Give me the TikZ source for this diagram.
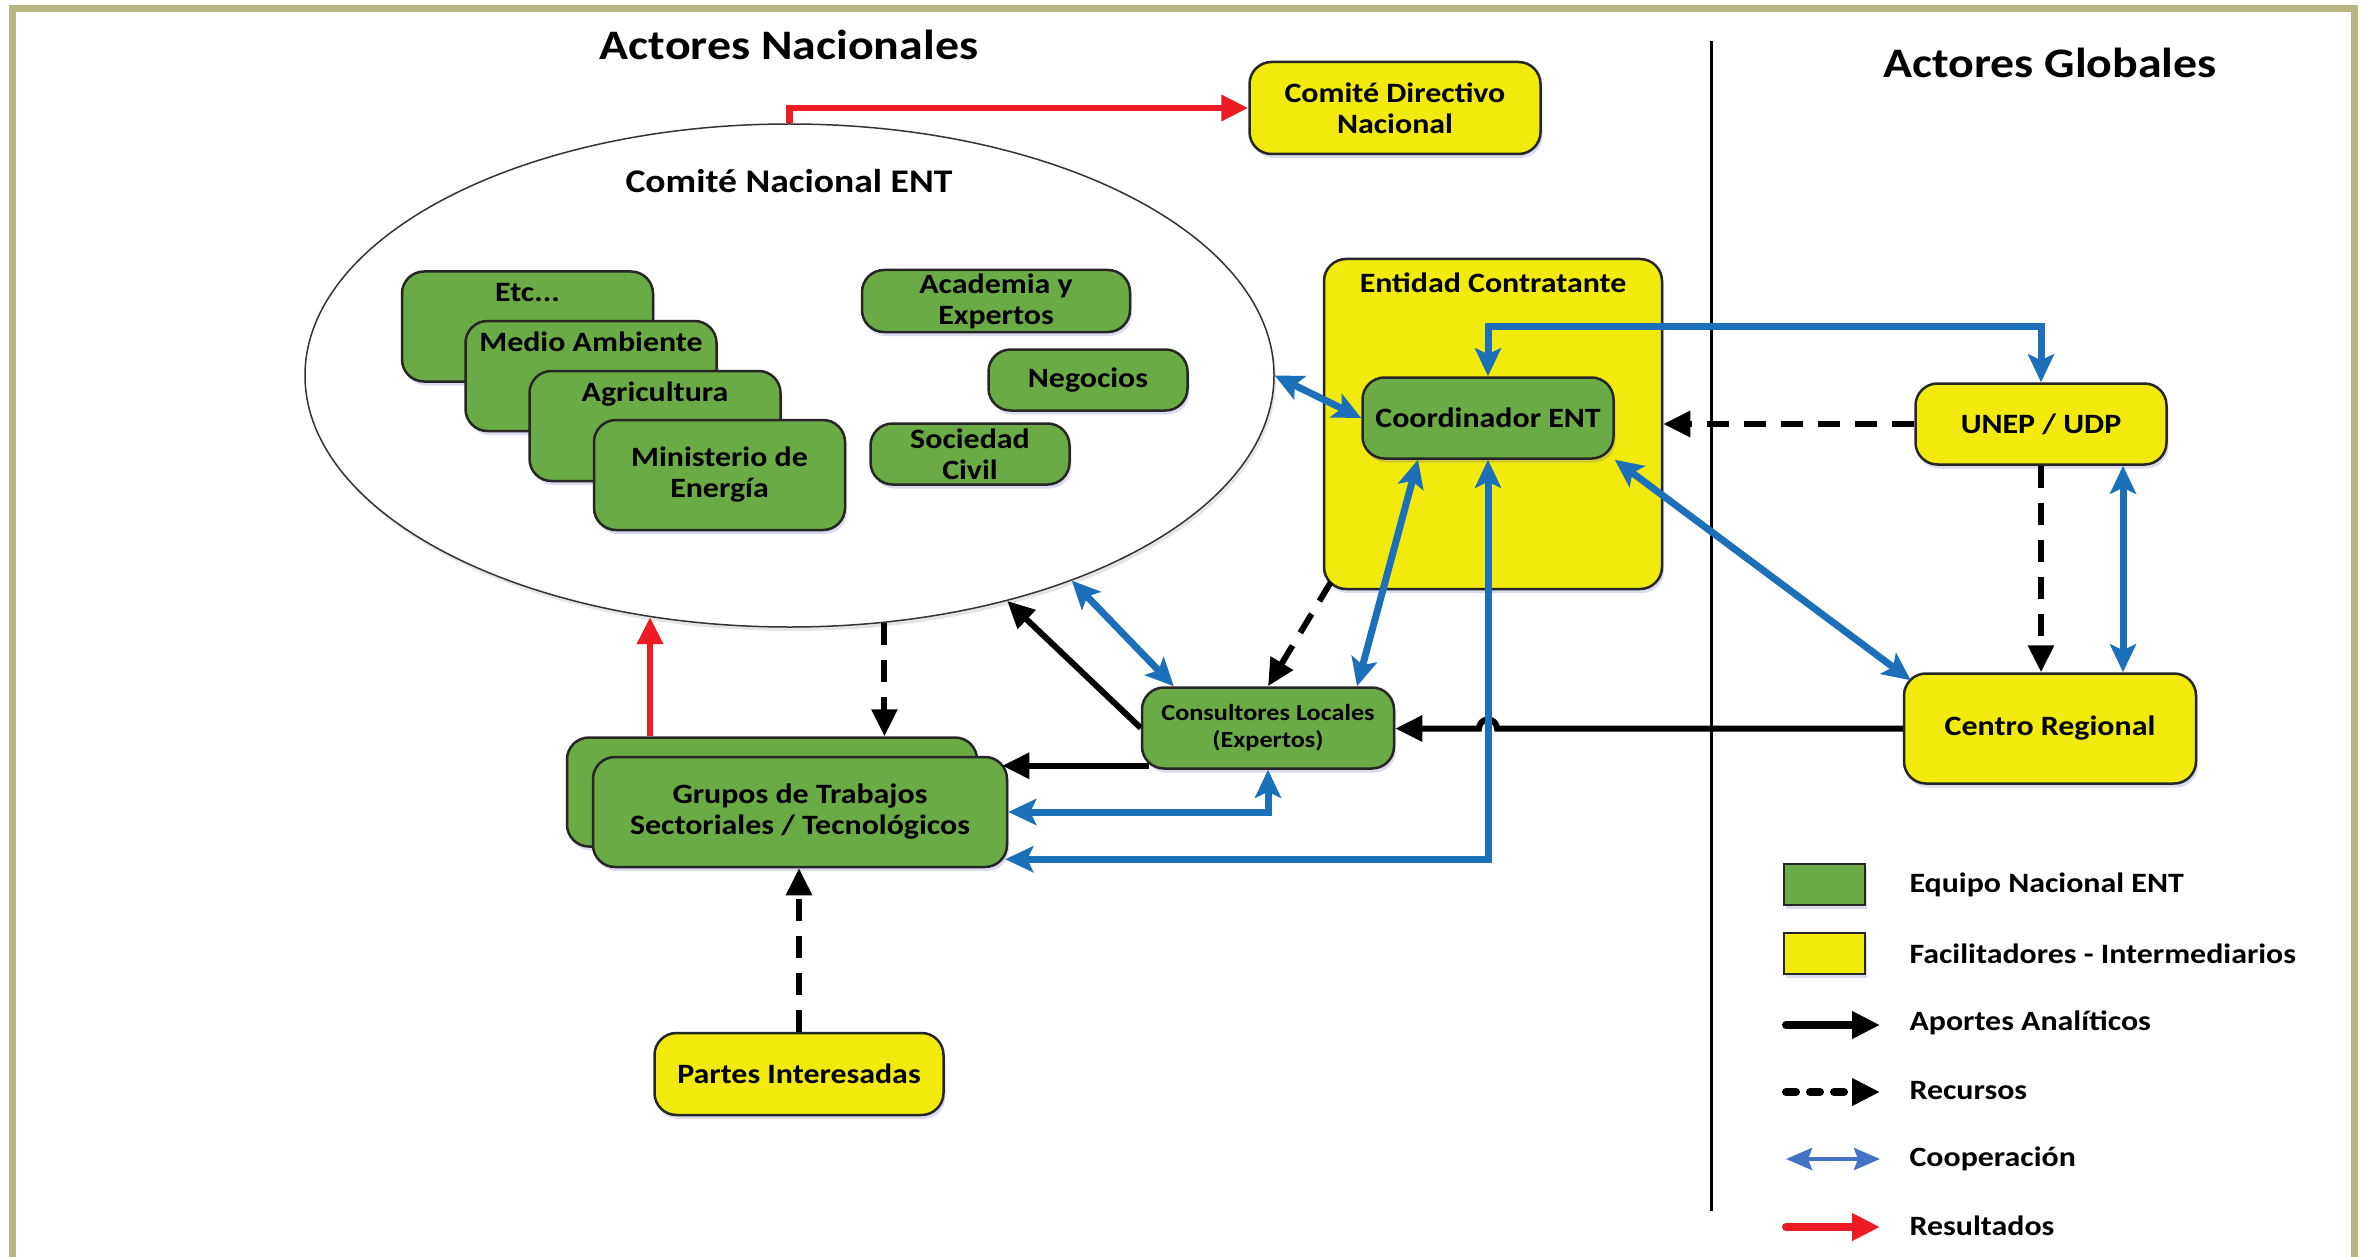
\documentclass[tikz,border=0pt]{standalone}
\usepackage{fontspec}
\setmainfont{Carlito}[FakeStretch=1.14]
\usetikzlibrary{arrows.meta, positioning, calc, shapes.geometric, shadows}

\definecolor{entgreen}{RGB}{106,171,69}
\definecolor{entyellow}{RGB}{242,234,13}
\definecolor{entblue}{RGB}{28,112,186}
\definecolor{legblue}{RGB}{68,114,196}
\definecolor{entred}{RGB}{237,28,36}
\definecolor{framecol}{RGB}{186,182,130}

\begin{document}
\begin{tikzpicture}[x=1pt, y=-1pt,
    boxfont/.style={font=\fontsize{28}{31}\selectfont\bfseries},
    box/.style={draw=black!85, line width=2.5pt, rounded corners=22pt, inner sep=0pt,
        align=center, boxfont,
        drop shadow={shadow xshift=2pt, shadow yshift=-4pt, fill=blue!40!gray, opacity=0.2}},
    greenbox/.style={box, fill=entgreen},
    yellowbox/.style={box, fill=entyellow},
    coop/.style={draw=entblue, line width=7pt,
        {Stealth[length=28pt, width=26pt, inset=6pt]}-{Stealth[length=28pt, width=26pt, inset=6pt]}},
    aporte/.style={draw=black, line width=6pt, -{Triangle[length=27pt, width=25pt]}},
    recurso/.style={aporte, dash pattern=on 22pt off 15pt},
    result/.style={draw=entred, line width=6.5pt, -{Triangle[length=27pt, width=25pt]}}
]
    \useasboundingbox (0,0) rectangle (2363,1257);
    \fill[white] (0,0) rectangle (2363,1257);
    % frame and divider
    \draw[framecol, line width=7pt] (12.5,1275) -- (12.5,8.5) -- (2354,8.5) -- (2354,1275);
    \draw[line width=3pt] (1711,41) -- (1711,1211);

    % titles
    \node[font=\fontsize{42}{48}\selectfont\bfseries] (natitle) at (789,45) {Actores Nacionales};
    \node[font=\fontsize{42}{48}\selectfont\bfseries] (gltitle) at (2050,63) {Actores Globales};

    % national committee
    \node[draw=black!80, fill=white, line width=1.5pt, ellipse, minimum width=969pt, minimum height=503pt,
          inner sep=0pt, drop shadow={shadow xshift=2pt, shadow yshift=-4pt, fill=gray, opacity=0.2}]
          (cne) at (789.5,375.5) {};
    \node[font=\fontsize{33}{38}\selectfont\bfseries] (cnetitle) at (789,181) {Comité Nacional ENT};

    \node[greenbox, minimum width=251pt, minimum height=110pt,
          label={[boxfont, anchor=north, inner sep=0pt, yshift=-13pt]north:Etc...}] (etc) at (527.5,326.5) {};
    \node[greenbox, minimum width=251pt, minimum height=110pt,
          label={[boxfont, anchor=north, inner sep=0pt, yshift=-12pt]north:Medio Ambiente}] (medio) at (591,376) {};
    \node[greenbox, minimum width=251pt, minimum height=110pt,
          label={[boxfont, anchor=north, inner sep=0pt, yshift=-12pt]north:Agricultura}] (agri) at (655,426) {};
    \node[greenbox, minimum width=251pt, minimum height=110pt] (minen) at (719.5,475) {Ministerio de\\Energía};

    \node[greenbox, minimum width=268pt, minimum height=62pt] (acad) at (996,301) {Academia y\\Expertos};
    \node[greenbox, minimum width=199pt, minimum height=61pt] (nego) at (1088,380) {Negocios};
    \node[greenbox, minimum width=199pt, minimum height=61pt] (socie) at (970,454) {Sociedad\\Civil};

    % other actors
    \node[yellowbox, minimum width=291pt, minimum height=92pt] (cdn) at (1395,108) {Comité Directivo\\Nacional};
    \node[yellowbox, minimum width=338pt, minimum height=330pt,
          label={[boxfont, anchor=north, inner sep=0pt, yshift=-15pt]north:Entidad Contratante}] (ent) at (1493,424) {};
    \node[greenbox, minimum width=251pt, minimum height=81pt] (coord) at (1488,418) {Coordinador ENT};
    \node[yellowbox, minimum width=251pt, minimum height=81pt] (unep) at (2041,424) {UNEP / UDP};
    \node[yellowbox, minimum width=292pt, minimum height=110pt] (cent) at (2050,728.5) {Centro Regional};
    \node[greenbox, minimum width=252pt, minimum height=81pt, font=\fontsize{23}{27}\selectfont\bfseries]
          (cons) at (1268,728) {Consultores Locales\\(Expertos)};
    \node[greenbox, minimum width=410pt, minimum height=109pt] (gback) at (772,792) {};
    \node[greenbox, minimum width=414pt, minimum height=110pt] (gfront) at (800,812) {Grupos de Trabajos\\Sectoriales / Tecnológicos};
    \node[yellowbox, minimum width=289pt, minimum height=82pt] (partes) at (799,1074) {Partes Interesadas};

    % resultados
    \draw[result] (cne.north) |- (cdn.west);
    \draw[result] (cne.240 |- gback.north) -- (cne.240);

    % recursos
    \draw[recurso] (cne.291.6) -- (cne.291.6 |- gback.north);
    \draw[recurso] (partes.north) -- (partes.north |- gfront.south);
    \draw[recurso] ([xshift=8pt,yshift=8pt]ent.south west) -- (cons.north);
    \draw[recurso] (unep.west) -- (ent.east |- unep.west);
    \draw[recurso] (unep.south) -- (unep.south |- cent.north);

    % aportes analiticos
    \draw[aporte] (cons.west) -- (cne.314);
    \draw[aporte] ([xshift=8pt,yshift=4pt]cons.south west) coordinate (csw) -- ($(gfront.east |- csw)+(-6,0)$);
    \draw[aporte] (cent.west) -- ($(coord.south |- cent.west)+(9,0)$)
        arc[start angle=0, end angle=180, radius=9pt] -- (cons.east |- cent.west);

    % cooperacion
    \draw[coop] (cne.east) -- (coord.west);
    \draw[coop] (cne.324.6) -- ([xshift=33pt]cons.north west);
    \draw[coop] ([xshift=-70pt]coord.south) -- ([xshift=89pt]cons.north);
    \draw[coop] (cons.south) |- (gfront.east);
    \draw[coop] (coord.south) |- ($(gfront.south east)+(-3,-9)$);
    \draw[coop] (coord.north) -- ++(0,-50) -| (unep.north);
    \draw[coop] (coord.south east) -- ([xshift=8pt,yshift=-8pt]cent.north west);
    \draw[coop] ($(unep.south)+(82,0)$) -- ($(unep.south |- cent.north)+(82,0)$);

    % legend
    \node[box, sharp corners, fill=entgreen, minimum width=81pt, minimum height=41pt] (leggreen) at (1824.5,884.5) {};
    \node[box, sharp corners, fill=entyellow, minimum width=81pt, minimum height=41pt] (legyellow) at (1824.5,953.5) {};
    \node[boxfont, anchor=west] (legequipo) at (1906,885) {Equipo Nacional ENT};
    \node[boxfont, anchor=west] (legfacil) at (1906,954) {Facilitadores - Intermediarios};
    \node[boxfont, anchor=west] (legaporte) at (1906,1023) {Aportes Analíticos};
    \node[boxfont, anchor=west] (legrecurso) at (1906,1091) {Recursos};
    \node[boxfont, anchor=west] (legcoop) at (1906,1159) {Cooperación};
    \node[boxfont, anchor=west] (legresult) at (1906,1226) {Resultados};

    \draw[line width=8pt, line cap=round, -{Triangle[length=28pt, width=26pt]}]
        ($(legaporte.west)+(-120,2)$) -- ($(legaporte.west)+(-26,2)$);
    \draw[line width=8pt, line cap=round, dash pattern=on 10pt off 14pt, -{Triangle[length=28pt, width=26pt]}]
        ($(legrecurso.west)+(-120,1)$) -- ($(legrecurso.west)+(-26,1)$);
    \draw[legblue, line width=4pt, {Stealth[length=26pt, width=22pt, inset=4pt]}-{Stealth[length=26pt, width=22pt, inset=4pt]}]
        ($(legcoop.west)+(-120,0)$) -- ($(legcoop.west)+(-26,0)$);
    \draw[entred, line width=8pt, line cap=round, -{Triangle[length=28pt, width=26pt]}]
        ($(legresult.west)+(-120,1)$) -- ($(legresult.west)+(-26,1)$);
\end{tikzpicture}
\end{document}
